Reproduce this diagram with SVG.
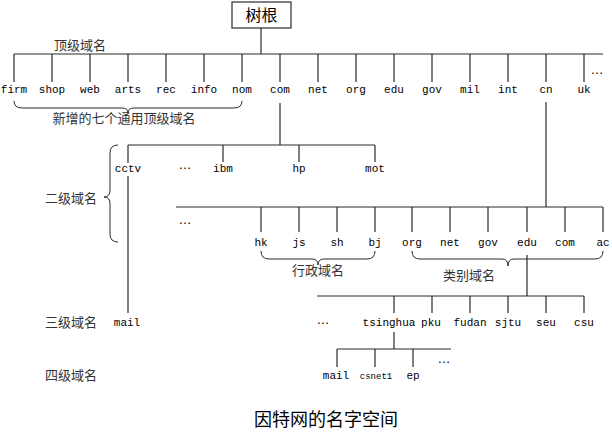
<svg xmlns="http://www.w3.org/2000/svg" width="612" height="434" viewBox="0 0 612 434">
<style>
.ln{stroke:#2a2a2a;stroke-width:1.2;fill:none}
.br{stroke:#2a2a2a;stroke-width:1;fill:none}
.t{font-family:"Liberation Mono",monospace;font-size:11px;fill:#000;text-anchor:middle}
.s{font-family:"Liberation Mono",monospace;font-size:9px;fill:#000;text-anchor:middle}
.c{font-family:"Noto Sans CJK SC",sans-serif;font-size:13px;fill:#333;text-anchor:middle}
.d{font-family:"Liberation Sans",sans-serif;font-size:13px;fill:#000;text-anchor:middle}
</style>
<rect width="612" height="434" fill="#fff"/>
<g id="connectors">
<line class="ln" x1="261" y1="28" x2="261" y2="54"/>
<line class="ln" x1="14" y1="54" x2="603" y2="54"/>
<path class="ln" d="M14,54V82M52,54V82M90,54V82M128,54V82M166,54V82M204,54V82M242,54V82M280,54V82M318,54V82M356,54V82M394,54V82M432,54V82M470,54V82M508,54V82M546,54V82M584,54V82"/>
<line class="ln" x1="280" y1="103" x2="280" y2="145"/>
<line class="ln" x1="128" y1="145" x2="375" y2="145"/>
<path class="ln" d="M128,145V163M223,145V162M299,145V162M375,145V162"/>
<line class="ln" x1="128" y1="176" x2="128" y2="313"/>
<line class="ln" x1="546" y1="102" x2="546" y2="207"/>
<line class="ln" x1="176" y1="207" x2="603" y2="207"/>
<path class="ln" d="M261,207V232M299,207V232M337,207V232M375,207V232M412,207V232M450,207V232M488,207V232M527,207V232M565,207V232M603,207V232"/>
<line class="ln" x1="527" y1="255" x2="527" y2="296"/>
<line class="ln" x1="317" y1="296" x2="584" y2="296"/>
<path class="ln" d="M394,296V313M432,296V313M470,296V313M508,296V313M546,296V313M584,296V313"/>
<line class="ln" x1="394" y1="332" x2="394" y2="349"/>
<line class="ln" x1="337" y1="349" x2="451" y2="349"/>
<path class="ln" d="M337,349V367M375,349V367M413,349V367"/>
</g>
<g id="braces">
<path class="br" d="M14,101 Q14,108 22,108 L122,108 Q128,108 128,113 Q128,108 134,108 L234,108 Q242,108 242,101"/>
<path class="br" d="M118,145 Q110,145 110,153 L110,190 Q110,197 104,197 Q110,197 110,204 L110,234 Q110,242 118,242"/>
<path class="br" d="M261,251 Q261,259 269,259 L312,259 Q318,259 318,265 Q318,259 324,259 L367,259 Q375,259 375,251"/>
<path class="br" d="M412,251 Q412,259 420,259 L502,259 Q508,259 508,266 Q508,259 514,259 L595,259 Q603,259 603,251"/>
</g>
<g id="root"><rect x="232" y="2" width="59" height="26" fill="#fff" stroke="#2a2a2a" stroke-width="1.2"/><text x="261.5" y="21" class="c" style="font-size:16px;fill:#000">树根</text></g>
<g id="labels">
<text x="80" y="50" class="c">顶级域名</text>
<text x="124" y="123" class="c">新增的七个通用顶级域名</text>
<text x="71" y="203" class="c">二级域名</text>
<text x="71" y="327" class="c">三级域名</text>
<text x="71" y="380" class="c">四级域名</text>
<text x="318" y="275" class="c">行政域名</text>
<text x="469" y="280" class="c">类别域名</text>
<text x="326" y="426" class="c" style="font-size:18px;fill:#000">因特网的名字空间</text>
</g>
<g id="top-level">
<g id="n-firm"><text x="14" y="93" class="t">firm</text></g>
<g id="n-shop"><text x="52" y="93" class="t">shop</text></g>
<g id="n-web"><text x="90" y="93" class="t">web</text></g>
<g id="n-arts"><text x="128" y="93" class="t">arts</text></g>
<g id="n-rec"><text x="166" y="93" class="t">rec</text></g>
<g id="n-info"><text x="204" y="93" class="t">info</text></g>
<g id="n-nom"><text x="242" y="93" class="t">nom</text></g>
<g id="n-com"><text x="280" y="93" class="t">com</text></g>
<g id="n-net"><text x="318" y="93" class="t">net</text></g>
<g id="n-org"><text x="356" y="93" class="t">org</text></g>
<g id="n-edu"><text x="394" y="93" class="t">edu</text></g>
<g id="n-gov"><text x="432" y="93" class="t">gov</text></g>
<g id="n-mil"><text x="470" y="93" class="t">mil</text></g>
<g id="n-int"><text x="508" y="93" class="t">int</text></g>
<g id="n-cn"><text x="546" y="93" class="t">cn</text></g>
<g id="n-uk"><text x="584" y="93" class="t">uk</text></g>
<g id="n-more1"><text x="597" y="74" class="d">…</text></g>
</g>
<g id="second-level-com">
<g id="n-cctv"><text x="128" y="172" class="t">cctv</text></g>
<g id="n-more2"><text x="185" y="169" class="d">…</text></g>
<g id="n-ibm"><text x="223" y="172" class="t">ibm</text></g>
<g id="n-hp"><text x="299" y="172" class="t">hp</text></g>
<g id="n-mot"><text x="375" y="172" class="t">mot</text></g>
</g>
<g id="second-level-cn">
<g id="n-more3"><text x="185" y="224" class="d">…</text></g>
<g id="n-hk"><text x="261" y="246" class="t">hk</text></g>
<g id="n-js"><text x="299" y="246" class="t">js</text></g>
<g id="n-sh"><text x="337" y="246" class="t">sh</text></g>
<g id="n-bj"><text x="375" y="246" class="t">bj</text></g>
<g id="n-cn-org"><text x="412" y="246" class="t">org</text></g>
<g id="n-cn-net"><text x="450" y="246" class="t">net</text></g>
<g id="n-cn-gov"><text x="488" y="246" class="t">gov</text></g>
<g id="n-cn-edu"><text x="527" y="246" class="t">edu</text></g>
<g id="n-cn-com"><text x="565" y="246" class="t">com</text></g>
<g id="n-cn-ac"><text x="603" y="246" class="t">ac</text></g>
</g>
<g id="third-level">
<g id="n-cctv-mail"><text x="127" y="326" class="t">mail</text></g>
<g id="n-more4"><text x="323" y="324" class="d">…</text></g>
<g id="n-tsinghua"><text x="389" y="326" class="t">tsinghua</text></g>
<g id="n-pku"><text x="431" y="326" class="t">pku</text></g>
<g id="n-fudan"><text x="470" y="326" class="t">fudan</text></g>
<g id="n-sjtu"><text x="508" y="326" class="t">sjtu</text></g>
<g id="n-seu"><text x="546" y="326" class="t">seu</text></g>
<g id="n-csu"><text x="584" y="326" class="t">csu</text></g>
</g>
<g id="fourth-level">
<g id="n-mail"><text x="336" y="379" class="t">mail</text></g>
<g id="n-csnet1"><text x="376" y="379" class="s">csnet1</text></g>
<g id="n-ep"><text x="413" y="379" class="t">ep</text></g>
<g id="n-more5"><text x="444" y="363" class="d">…</text></g>
</g>
</svg>
